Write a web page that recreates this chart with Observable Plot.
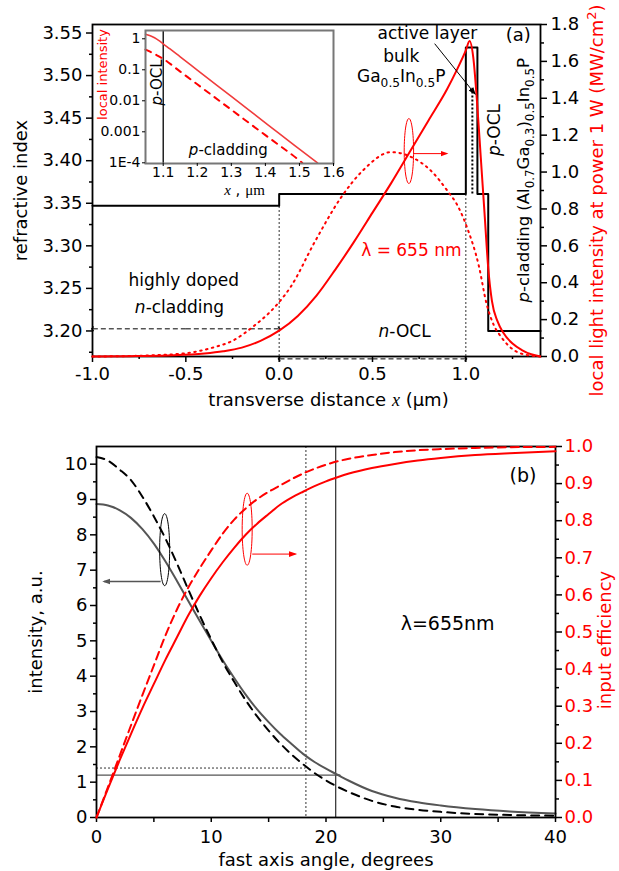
<!DOCTYPE html>
<html><head><meta charset="utf-8">
<script src="https://cdn.jsdelivr.net/npm/d3@7"></script>
<script src="https://cdn.jsdelivr.net/npm/@observablehq/plot@0.6"></script>
<style>
body{margin:0;background:#fff;}
#wrap{position:relative;width:619px;height:871px;overflow:hidden;background:#fff;}
</style></head><body><div id="wrap"></div>
<script>
// ---------- Panel (a) data ----------
const profileX = [-1.0, 0.0, 0.0, 1.0, 1.0, 1.062, 1.062, 1.12, 1.12, 1.4];
const profileN = [3.347, 3.347, 3.361, 3.361, 3.533, 3.533, 3.361, 3.361, 3.200, 3.200];

const modeX = [-1.0, -0.8, -0.6, -0.4, -0.3, -0.2, -0.1, 0.0, 0.1, 0.2, 0.3, 0.4, 0.5, 0.6, 0.7, 0.8, 0.9, 0.95, 1.0, 1.02, 1.04, 1.06, 1.08, 1.10, 1.12, 1.14, 1.17, 1.2, 1.25, 1.3, 1.35, 1.4];
const modeI = [0.0, 0.002, 0.006, 0.016, 0.028, 0.048, 0.085, 0.14, 0.22, 0.33, 0.47, 0.62, 0.78, 0.94, 1.11, 1.28, 1.45, 1.55, 1.66, 1.71, 1.62, 1.38, 1.08, 0.78, 0.48, 0.30, 0.19, 0.13, 0.07, 0.035, 0.012, 0.0];

const symX = [-1.0, -0.75, -0.5, -0.35, -0.25, -0.13, -0.05, 0.0, 0.06, 0.19, 0.33, 0.45, 0.6, 0.7, 0.82, 0.9, 0.96, 1.01, 1.07, 1.11, 1.15, 1.19, 1.25, 1.3, 1.4];
const symI = [0.0, 0.004, 0.018, 0.05, 0.085, 0.17, 0.24, 0.295, 0.375, 0.62, 0.86, 1.01, 1.108, 1.085, 1.0, 0.9, 0.81, 0.69, 0.49, 0.29, 0.17, 0.105, 0.04, 0.015, 0.0];

const aXTicks = [-1.0, -0.5, 0.0, 0.5, 1.0];
const aXMinor = [-0.75, -0.25, 0.25, 0.75, 1.25];
const aYTicks = [3.20, 3.25, 3.30, 3.35, 3.40, 3.45, 3.50, 3.55];
const aYMinor = [3.175, 3.225, 3.275, 3.325, 3.375, 3.425, 3.475, 3.525];
const aRTicks = [0.0, 0.2, 0.4, 0.6, 0.8, 1.0, 1.2, 1.4, 1.6, 1.8];
const aRMinor = [0.1, 0.3, 0.5, 0.7, 0.9, 1.1, 1.3, 1.5, 1.7];

// ---------- Inset data ----------
const insetSolidX = [1.048, 1.06, 1.07, 1.08, 1.09, 1.10, 1.12, 1.15, 1.2, 1.3, 1.4, 1.5, 1.553];
const insetSolidI = [1.40, 1.27, 1.14, 0.99, 0.84, 0.69, 0.47, 0.26, 0.098, 0.0138, 0.00195, 0.000275, 0.0001];
const insetDashX = [1.048, 1.06, 1.08, 1.10, 1.15, 1.2, 1.3, 1.4, 1.5, 1.508];
const insetDashI = [0.45, 0.39, 0.30, 0.225, 0.0875, 0.034, 0.00515, 0.00078, 0.000118, 0.0001];
const insetXTicks = [1.1, 1.2, 1.3, 1.4, 1.5, 1.6];
const insetYTicks = [1, 0.1, 0.01, 0.001, 0.0001];
const insetYLabels = ["1", "0.1", "0.01", "0.001", "1E-4"];

// ---------- Panel (b) data ----------
const angle = [0, 1, 2, 3, 4, 5, 6, 7, 8, 9, 10, 11, 12, 13, 14, 15, 16, 17, 18, 19, 20, 21, 22, 24, 26, 28, 30, 33, 36, 40];
const farSolid = [8.87, 8.83, 8.70, 8.48, 8.16, 7.75, 7.25, 6.70, 6.13, 5.56, 5.0, 4.45, 3.95, 3.48, 3.06, 2.7, 2.37, 2.08, 1.8, 1.57, 1.38, 1.21, 1.04, 0.75, 0.56, 0.43, 0.34, 0.24, 0.17, 0.11];
const farDashed = [10.2, 10.1, 9.85, 9.55, 9.08, 8.52, 7.9, 7.2, 6.45, 5.72, 5.04, 4.4, 3.84, 3.32, 2.86, 2.46, 2.1, 1.78, 1.51, 1.26, 1.05, 0.87, 0.72, 0.47, 0.31, 0.22, 0.16, 0.1, 0.07, 0.05];
const effSolid = [0, 0.078, 0.153, 0.225, 0.295, 0.36, 0.425, 0.485, 0.545, 0.598, 0.645, 0.688, 0.727, 0.762, 0.792, 0.818, 0.843, 0.862, 0.878, 0.893, 0.906, 0.917, 0.927, 0.942, 0.953, 0.962, 0.969, 0.977, 0.982, 0.987];
const effDashed = [0, 0.082, 0.165, 0.248, 0.33, 0.41, 0.49, 0.56, 0.62, 0.672, 0.72, 0.765, 0.803, 0.833, 0.858, 0.878, 0.895, 0.912, 0.927, 0.94, 0.951, 0.96, 0.967, 0.977, 0.985, 0.99, 0.993, 0.996, 0.998, 0.999];

const bXTicks = [0, 10, 20, 30, 40];
const bXMinor = [5, 15, 25, 35];
const bYTicks = [0, 1, 2, 3, 4, 5, 6, 7, 8, 9, 10];
const bYMinor = [0.5, 1.5, 2.5, 3.5, 4.5, 5.5, 6.5, 7.5, 8.5, 9.5];
const bRTicks = [0.0, 0.1, 0.2, 0.3, 0.4, 0.5, 0.6, 0.7, 0.8, 0.9, 1.0];
const bRMinor = [0.05, 0.15, 0.25, 0.35, 0.45, 0.55, 0.65, 0.75, 0.85, 0.95];

// ---------- helpers ----------
const FONT = "DejaVu Sans, sans-serif";
const W = 619;
const A_H = 420, B_H = 451;
const A_M = {marginLeft: 92, marginRight: 79, marginTop: 24, marginBottom: 64};
const B_M = {marginLeft: 96, marginRight: 64, marginTop: 26, marginBottom: 54};
const baseStyle = (fs) => ({background: "transparent", overflow: "visible", fontFamily: FONT, fontSize: fs + "px", color: "black"});
const zip = (xs, ys, kx, ky) => xs.map((x, i) => ({[kx]: x, [ky]: ys[i]}));
const mid = {textAnchor: "middle", lineAnchor: "middle"};

function ellipse(rx, ry) {
  const k = 0.5523;
  return {draw(ctx) {
    ctx.moveTo(rx, 0);
    ctx.bezierCurveTo(rx, k * ry, k * rx, ry, 0, ry);
    ctx.bezierCurveTo(-k * rx, ry, -rx, k * ry, -rx, 0);
    ctx.bezierCurveTo(-rx, -k * ry, -k * rx, -ry, 0, -ry);
    ctx.bezierCurveTo(k * rx, -ry, rx, -k * ry, rx, 0);
    ctx.closePath();
  }};
}

const wrap = document.getElementById("wrap");
function place(svg, top, left) {
  svg.style.position = "absolute";
  svg.style.top = top + "px";
  svg.style.left = left + "px";
  wrap.appendChild(svg);
}

// ---------- Panel (a): refractive index (left scale) ----------
const aProfile = zip(profileX, profileN, "x", "n");
const A1 = Plot.plot({
  width: W, height: A_H, ...A_M,
  style: baseStyle(18),
  x: {domain: [-1, 1.4]},
  y: {domain: [3.17, 3.56]},
  marks: [
    Plot.ruleX([0], {y1: 3.17, y2: 3.347, stroke: "#333", strokeDasharray: "2,2", strokeWidth: 1}),
    Plot.ruleX([1.0], {y1: 3.17, y2: 3.361, stroke: "#333", strokeDasharray: "2,2", strokeWidth: 1}),
    Plot.ruleX([1.035], {y1: 3.361, y2: 3.485, stroke: "black", strokeDasharray: "2,2", strokeWidth: 2}),
    Plot.line(aProfile, {x: "x", y: "n", stroke: "black", strokeWidth: 2}),
    Plot.link([0], {x1: -0.5, x2: -1.0, y1: 3.2025, y2: 3.2025, stroke: "black", strokeWidth: 1, strokeDasharray: "5,3", markerEnd: "arrow"}),
    Plot.link([0], {x1: -0.5, x2: 0.0, y1: 3.2025, y2: 3.2025, stroke: "black", strokeWidth: 1, strokeDasharray: "5,3", markerEnd: "arrow"}),
    Plot.link([0], {x1: 0.5, x2: 0.0, y1: 3.1672, y2: 3.1672, stroke: "black", strokeWidth: 1, strokeDasharray: "5,3", markerEnd: "arrow"}),
    Plot.link([0], {x1: 0.5, x2: 1.0, y1: 3.1672, y2: 3.1672, stroke: "black", strokeWidth: 1, strokeDasharray: "5,3", markerEnd: "arrow"}),
    Plot.frame({stroke: "black", strokeWidth: 1.8}),
    Plot.axisY(aYTicks, {anchor: "left", tickSize: 6, tickPadding: 4, strokeWidth: 1.5, tickFormat: d => d.toFixed(2), label: null}),
    Plot.axisY(aYMinor, {anchor: "left", tickSize: 3, strokeWidth: 1.5, tickFormat: () => "", label: null}),
    Plot.axisX(aXTicks, {anchor: "bottom", tickSize: 6, tickPadding: 5, strokeWidth: 1.5, tickFormat: d => d.toFixed(1), label: null}),
    Plot.axisX(aXMinor, {anchor: "bottom", tickSize: 3, strokeWidth: 1.5, tickFormat: () => "", label: null}),
    Plot.text(["active layer"], {x: 0.794, y: 3.549, fontSize: 17}),
    Plot.text(["bulk"], {x: 0.654, y: 3.522, fontSize: 17}),
    Plot.text(["Ga_{0.5}In_{0.5}P"], {x: 0.654, y: 3.499, fontSize: 17}),
    Plot.text(["(a)"], {x: 1.281, y: 3.547, fontSize: 18}),
    Plot.text(["*p*-OCL"], {x: 1.156, y: 3.436, rotate: -90, fontSize: 17}),
    Plot.text(["*p*-cladding (Al_{0.7}Ga_{0.3})_{0.5}In_{0.5}P"], {x: 1.31, y: 3.377, rotate: -90, fontSize: 16.5}),
    Plot.text(["highly doped"], {x: -0.511, y: 3.259, fontSize: 17}),
    Plot.text(["*n*-cladding"], {x: -0.534, y: 3.228, fontSize: 17}),
    Plot.text(["*n*-OCL"], {x: 0.672, y: 3.199, fontSize: 17}),
    Plot.text(["λ = 655 nm"], {x: 0.708, y: 3.295, fill: "red", fontSize: 17}),
    Plot.text(["refractive index"], {frameAnchor: "left", dx: -71, rotate: -90, fontSize: 18, ...mid}),
    Plot.text(["transverse distance ~x~ (μm)"], {frameAnchor: "bottom", dy: 44, dx: 12, fontSize: 18, ...mid})
  ]
});

// ---------- Panel (a): intensity (right scale) ----------
const A2 = Plot.plot({
  width: W, height: A_H, ...A_M,
  style: baseStyle(18),
  x: {domain: [-1, 1.4], axis: null},
  y: {domain: [0, 1.8]},
  marks: [
    Plot.line(zip(symX, symI, "x", "i"), {x: "x", y: "i", stroke: "red", strokeWidth: 2, strokeDasharray: "1.5,4.5", curve: "monotone-x"}),
    Plot.line(zip(modeX, modeI, "x", "i"), {x: "x", y: "i", stroke: "red", strokeWidth: 2, curve: "monotone-x"}),
    Plot.link([0], {x1: 0.833, y1: 1.696, x2: 1.048, y2: 1.425, stroke: "black", strokeWidth: 1, markerEnd: "arrow"}),
    Plot.dot([0], {x: 0.695, y: 1.114, symbol: ellipse(4.7, 32.5), stroke: "red", fill: "none", strokeWidth: 1}),
    Plot.link([0], {x1: 0.72, y1: 1.10, x2: 0.897, y2: 1.10, stroke: "red", strokeWidth: 1, markerEnd: "arrow"}),
    Plot.axisY(aRTicks, {anchor: "right", tickSize: 6, tickPadding: 4, strokeWidth: 1.5, tickFormat: d => d.toFixed(1), label: null}),
    Plot.axisY(aRMinor, {anchor: "right", tickSize: 3, strokeWidth: 1.5, tickFormat: () => "", label: null}),
    Plot.text(["local light intensity at power 1 W (MW/cm^{2})"], {frameAnchor: "right", dx: 57, dy: 10, rotate: -90, fill: "red", fontSize: 18, ...mid})
  ]
});

// ---------- Inset ----------
const INSET = Plot.plot({
  width: 250, height: 180, marginLeft: 50, marginRight: 12, marginTop: 10, marginBottom: 37,
  style: baseStyle(14),
  x: {domain: [1.048, 1.6]},
  y: {type: "log", domain: [0.95e-4, 1.85]},
  marks: [
    Plot.frame({fill: "white", stroke: "none"}),
    Plot.ruleX([1.1], {stroke: "black", strokeWidth: 1.3}),
    Plot.line(zip(insetSolidX, insetSolidI, "x", "i"), {x: "x", y: "i", stroke: "#f03c3c", strokeWidth: 1.6, curve: "monotone-x"}),
    Plot.line(zip(insetDashX, insetDashI, "x", "i"), {x: "x", y: "i", stroke: "red", strokeWidth: 2, strokeDasharray: "6,6", curve: "monotone-x"}),
    Plot.frame({stroke: "#777", strokeWidth: 2}),
    Plot.axisY(insetYTicks, {anchor: "left", tickSize: 3, tickPadding: 2, tickFormat: d => insetYLabels[insetYTicks.indexOf(d)], label: null}),
    Plot.axisX(insetXTicks, {anchor: "bottom", tickSize: 3, tickPadding: 1, tickFormat: d => d.toFixed(1), label: null}),
    Plot.text(["*p*-OCL"], {x: 1.082, y: 0.039, rotate: -90, fontSize: 15}),
    Plot.text(["*p*-cladding"], {x: 1.291, y: 0.00025, fontSize: 15}),
    Plot.text(["local intensity"], {frameAnchor: "left", dx: -42.5, dy: -22.5, rotate: -90, fill: "red", fontSize: 13, ...mid}),
    Plot.text(["~x~ , #μm#"], {frameAnchor: "bottom", dy: 27, dx: 5, fontSize: 15, ...mid})
  ]
});

// ---------- Panel (b): intensity (left scale) ----------
const B1 = Plot.plot({
  width: W, height: B_H, ...B_M,
  style: baseStyle(18),
  x: {domain: [0, 40]},
  y: {domain: [0, 10.5]},
  marks: [
    Plot.ruleX([18.25], {stroke: "#333", strokeDasharray: "2,2", strokeWidth: 1}),
    Plot.ruleX([20.85], {stroke: "black", strokeWidth: 1}),
    Plot.ruleY([1.4], {x1: 0, x2: 18.25, stroke: "#333", strokeDasharray: "2,2", strokeWidth: 1}),
    Plot.ruleY([1.2], {x1: 0, x2: 21.3, stroke: "#555", strokeWidth: 1.3}),
    Plot.line(zip(angle, farSolid, "a", "v"), {x: "a", y: "v", stroke: "#555", strokeWidth: 2, curve: "monotone-x"}),
    Plot.line(zip(angle, farDashed, "a", "v"), {x: "a", y: "v", stroke: "black", strokeWidth: 2, strokeDasharray: "8,6", curve: "monotone-x"}),
    Plot.dot([0], {x: 5.94, y: 7.58, symbol: ellipse(5, 36), stroke: "black", fill: "none", strokeWidth: 1}),
    Plot.link([0], {x1: 5.59, y1: 6.68, x2: 0.66, y2: 6.68, stroke: "#555", strokeWidth: 1.5, markerEnd: "arrow"}),
    Plot.frame({stroke: "black", strokeWidth: 1.8}),
    Plot.axisY(bYTicks, {anchor: "left", tickSize: 6, tickPadding: 3, strokeWidth: 1.5, tickFormat: d => String(d), label: null}),
    Plot.axisY(bYMinor, {anchor: "left", tickSize: 3, strokeWidth: 1.5, tickFormat: () => "", label: null}),
    Plot.axisX(bXTicks, {anchor: "bottom", tickSize: 5, tickPadding: 8, strokeWidth: 1.5, tickFormat: d => String(d), label: null}),
    Plot.axisX(bXMinor, {anchor: "bottom", tickSize: 5, strokeWidth: 1.5, tickFormat: () => "", label: null}),
    Plot.text(["(b)"], {x: 37.16, y: 9.67, fontSize: 19}),
    Plot.text(["λ=655nm"], {x: 30.6, y: 5.49, fontSize: 19}),
    Plot.text(["intensity, a.u."], {frameAnchor: "left", dx: -60, rotate: -90, fontSize: 18, ...mid}),
    Plot.text(["fast axis angle, degrees"], {frameAnchor: "bottom", dy: 43, fontSize: 18, ...mid})
  ]
});

// ---------- Panel (b): efficiency (right scale) ----------
const B2 = Plot.plot({
  width: W, height: B_H, ...B_M,
  style: baseStyle(18),
  x: {domain: [0, 40], axis: null},
  y: {domain: [0, 1.0]},
  marks: [
    Plot.line(zip(angle, effDashed, "a", "e"), {x: "a", y: "e", stroke: "red", strokeWidth: 2, strokeDasharray: "8,5", curve: "monotone-x"}),
    Plot.line(zip(angle, effSolid, "a", "e"), {x: "a", y: "e", stroke: "red", strokeWidth: 2, curve: "monotone-x"}),
    Plot.dot([0], {x: 13.13, y: 0.777, symbol: ellipse(5, 36), stroke: "red", fill: "none", strokeWidth: 1}),
    Plot.link([0], {x1: 13.57, y1: 0.71, x2: 17.33, y2: 0.71, stroke: "red", strokeWidth: 1, markerEnd: "arrow"}),
    Plot.axisY(bRTicks, {anchor: "right", tickSize: 0, tickPadding: 9, tickFormat: d => d.toFixed(1), color: "red", label: null}),
    Plot.axisY(bRTicks, {anchor: "right", tickSize: 6, strokeWidth: 1.5, tickFormat: () => "", label: null}),
    Plot.axisY(bRMinor, {anchor: "right", tickSize: 3, strokeWidth: 1.5, tickFormat: () => "", label: null}),
    Plot.text(["input efficiency"], {frameAnchor: "right", dx: 50, dy: 8, rotate: -90, fill: "red", fontSize: 18, ...mid})
  ]
});

place(A1, 0, 0);
place(A2, 0, 0);
place(B1, A_H, 0);
place(B2, A_H, 0);
place(INSET, 20, 95);

// ---------- post-processing: rich text and arrow heads ----------
function richify(root) {
  const re = /(\*[^*]+\*|~[^~]+~|#[^#]+#|_\{[^}]*\}|\^\{[^}]*\})/;
  root.querySelectorAll("text").forEach(t => {
    const s = t.textContent;
    if (!re.test(s)) return;
    const fs = parseFloat(getComputedStyle(t).fontSize) || 16;
    const parts = s.split(re).filter(p => p !== "");
    while (t.firstChild) t.removeChild(t.firstChild);
    let shift = 0;
    for (const p of parts) {
      const ts = document.createElementNS("http://www.w3.org/2000/svg", "tspan");
      let txt = p, target = 0, small = false;
      if (p[0] === "*") { txt = p.slice(1, -1); ts.setAttribute("font-style", "italic"); }
      else if (p[0] === "~") { txt = p.slice(1, -1); ts.setAttribute("font-style", "italic"); ts.setAttribute("font-family", "Liberation Serif, serif"); }
      else if (p[0] === "#") { txt = p.slice(1, -1); ts.setAttribute("font-family", "Liberation Serif, serif"); }
      else if (p.startsWith("_{")) { txt = p.slice(2, -1); target = 0.3 * fs; small = true; }
      else if (p.startsWith("^{")) { txt = p.slice(2, -1); target = -0.4 * fs; small = true; }
      if (small) ts.setAttribute("font-size", (0.72 * fs).toFixed(1));
      const dy = target - shift;
      if (dy) ts.setAttribute("dy", dy.toFixed(2));
      shift = target;
      ts.textContent = txt;
      t.appendChild(ts);
    }
  });
}
richify(wrap);

function openMarkers(svg) {
  svg.querySelectorAll("marker path").forEach(p => p.setAttribute("stroke-dasharray", "none"));
}
function fillMarkers(svg) {
  svg.querySelectorAll("marker").forEach(m => {
    const p = m.querySelector("path");
    const c = m.getAttribute("stroke") || (p && p.getAttribute("stroke")) || "black";
    m.setAttribute("markerUnits", "userSpaceOnUse");
    m.setAttribute("markerWidth", "12");
    m.setAttribute("markerHeight", "12");
    m.setAttribute("fill", c);
    m.setAttribute("stroke", "none");
    if (p) {
      p.setAttribute("d", "M-6,-2.6L1.5,0L-6,2.6Z");
      p.setAttribute("fill", c);
      p.setAttribute("stroke", "none");
      p.setAttribute("stroke-dasharray", "none");
    }
  });
}
openMarkers(A1);
fillMarkers(A2);
fillMarkers(B1);
fillMarkers(B2);
</script>
</body></html>
